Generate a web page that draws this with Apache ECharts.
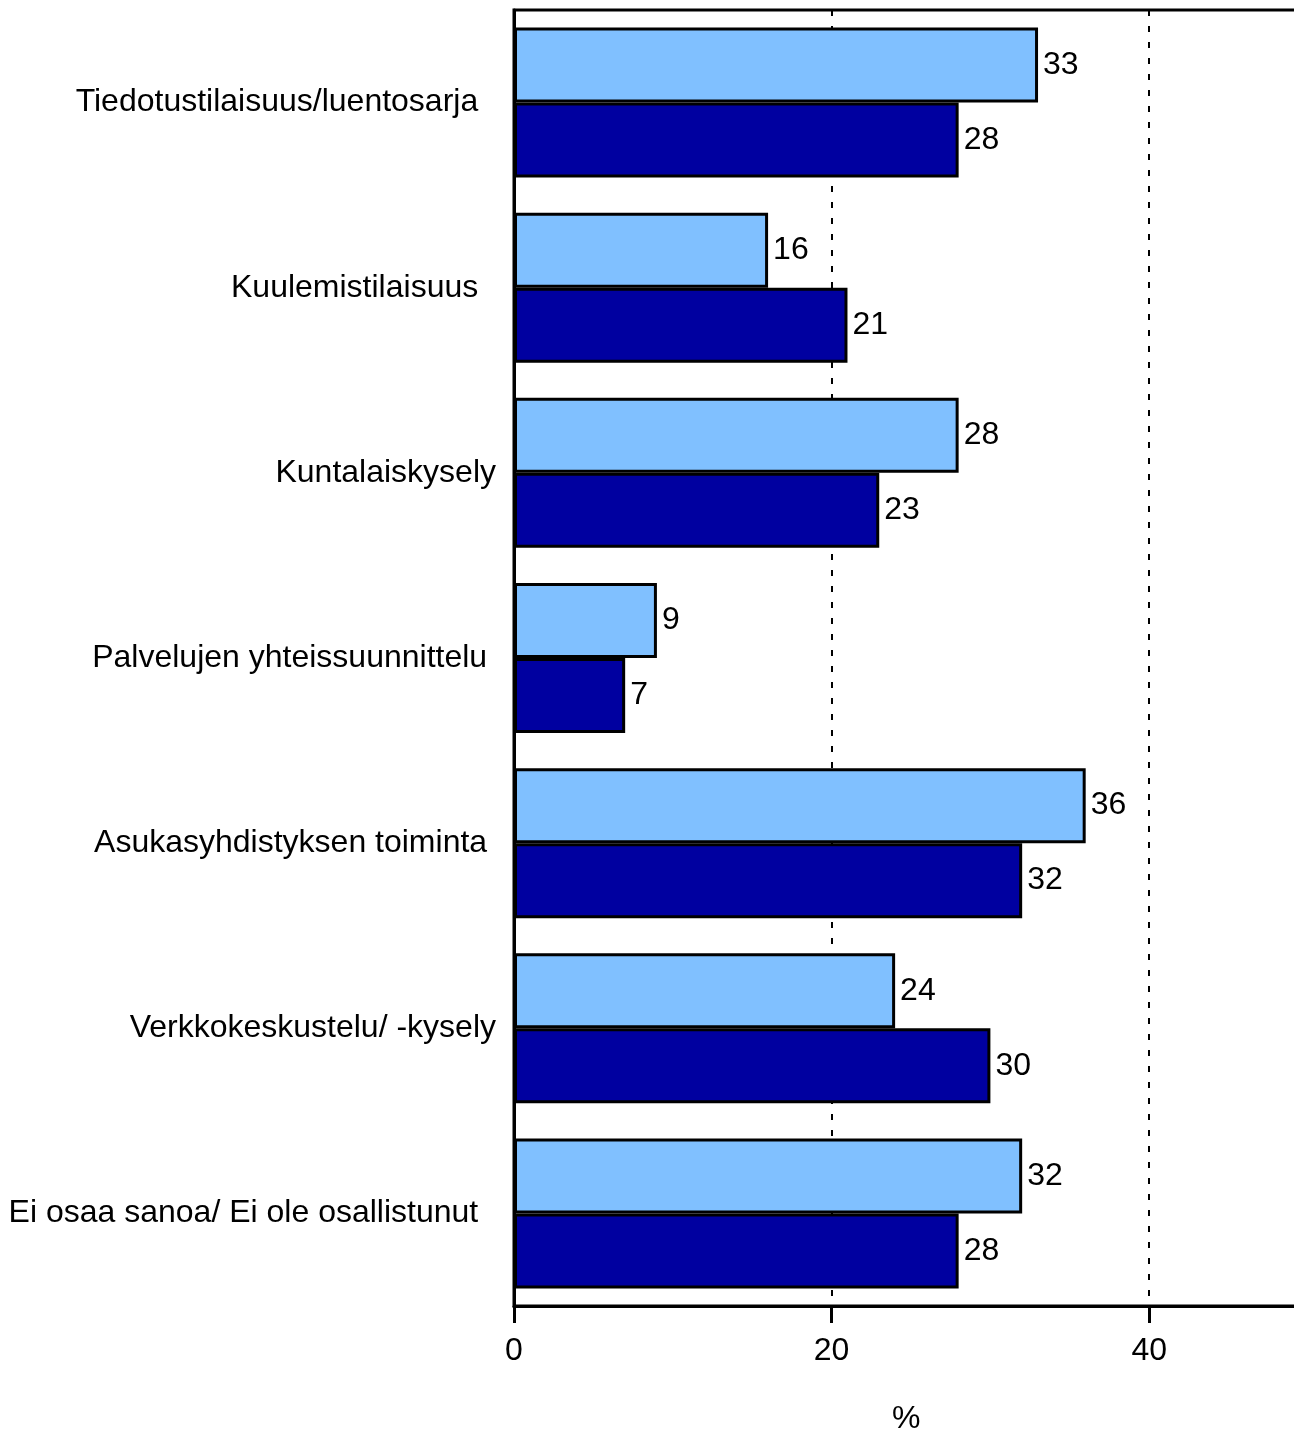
<!DOCTYPE html>
<html>
<head>
<meta charset="utf-8">
<script src="https://cdn.jsdelivr.net/npm/echarts@6/dist/echarts.min.js"></script>
<style>
html,body{margin:0;padding:0;background:#fff;overflow:hidden;}
#chart{width:1312px;height:1433px;}
</style>
</head>
<body>
<div id="chart"></div>
<script>
var categories = [
  'Tiedotustilaisuus/luentosarja  ',
  'Kuulemistilaisuus  ',
  'Kuntalaiskysely',
  'Palvelujen yhteissuunnittelu ',
  'Asukasyhdistyksen toiminta ',
  'Verkkokeskustelu/ -kysely',
  'Ei osaa sanoa/ Ei ole osallistunut  '
];
var seriesLight = [33, 16, 28, 9, 36, 24, 32];
var seriesDark = [28, 21, 23, 7, 32, 30, 28];
var xTicks = { min: 0, max: 50, interval: 20 };
var axisTitle = '%';

var FONT = 'Liberation Sans, Arial, sans-serif';
var chart = echarts.init(document.getElementById('chart'), null, { renderer: 'canvas' });
var labelStyle = {
  show: true, position: 'right', distance: 5,
  color: '#000', fontSize: 32, fontFamily: FONT
};
chart.setOption({
  animation: false,
  backgroundColor: '#fff',
  grid: {
    left: 514, right: 4, top: 10, bottom: 127,
    show: true, borderColor: '#000', borderWidth: 3, backgroundColor: 'transparent'
  },
  xAxis: {
    type: 'value', min: xTicks.min, max: xTicks.max, interval: xTicks.interval,
    axisLine: { show: true, lineStyle: { color: '#000', width: 3 } },
    axisTick: { show: true, length: 17, lineStyle: { color: '#000', width: 3 } },
    axisLabel: {
      color: '#000', fontSize: 32, fontFamily: FONT,
      margin: 29, showMaxLabel: false
    },
    splitLine: { show: true, lineStyle: { color: '#000', width: 2, type: [6, 10] } }
  },
  yAxis: {
    type: 'category', data: categories, inverse: true,
    axisLine: { show: true, lineStyle: { color: '#000', width: 3 } },
    axisTick: { show: false },
    axisLabel: {
      color: '#000', fontSize: 32, fontFamily: FONT,
      margin: 18
    }
  },
  graphic: [{
    type: 'text', left: 892, top: 1403,
    style: { text: axisTitle, fill: '#000', fontSize: 32, fontFamily: FONT }
  }],
  series: [
    {
      type: 'bar', data: seriesLight, barGap: '0%', barCategoryGap: '19%',
      itemStyle: { color: '#80C0FF', borderColor: '#000', borderWidth: 3 },
      label: labelStyle
    },
    {
      type: 'bar', data: seriesDark, barGap: '0%', barCategoryGap: '19%',
      itemStyle: { color: '#0000A0', borderColor: '#000', borderWidth: 3 },
      label: labelStyle
    }
  ]
});
</script>
</body>
</html>
